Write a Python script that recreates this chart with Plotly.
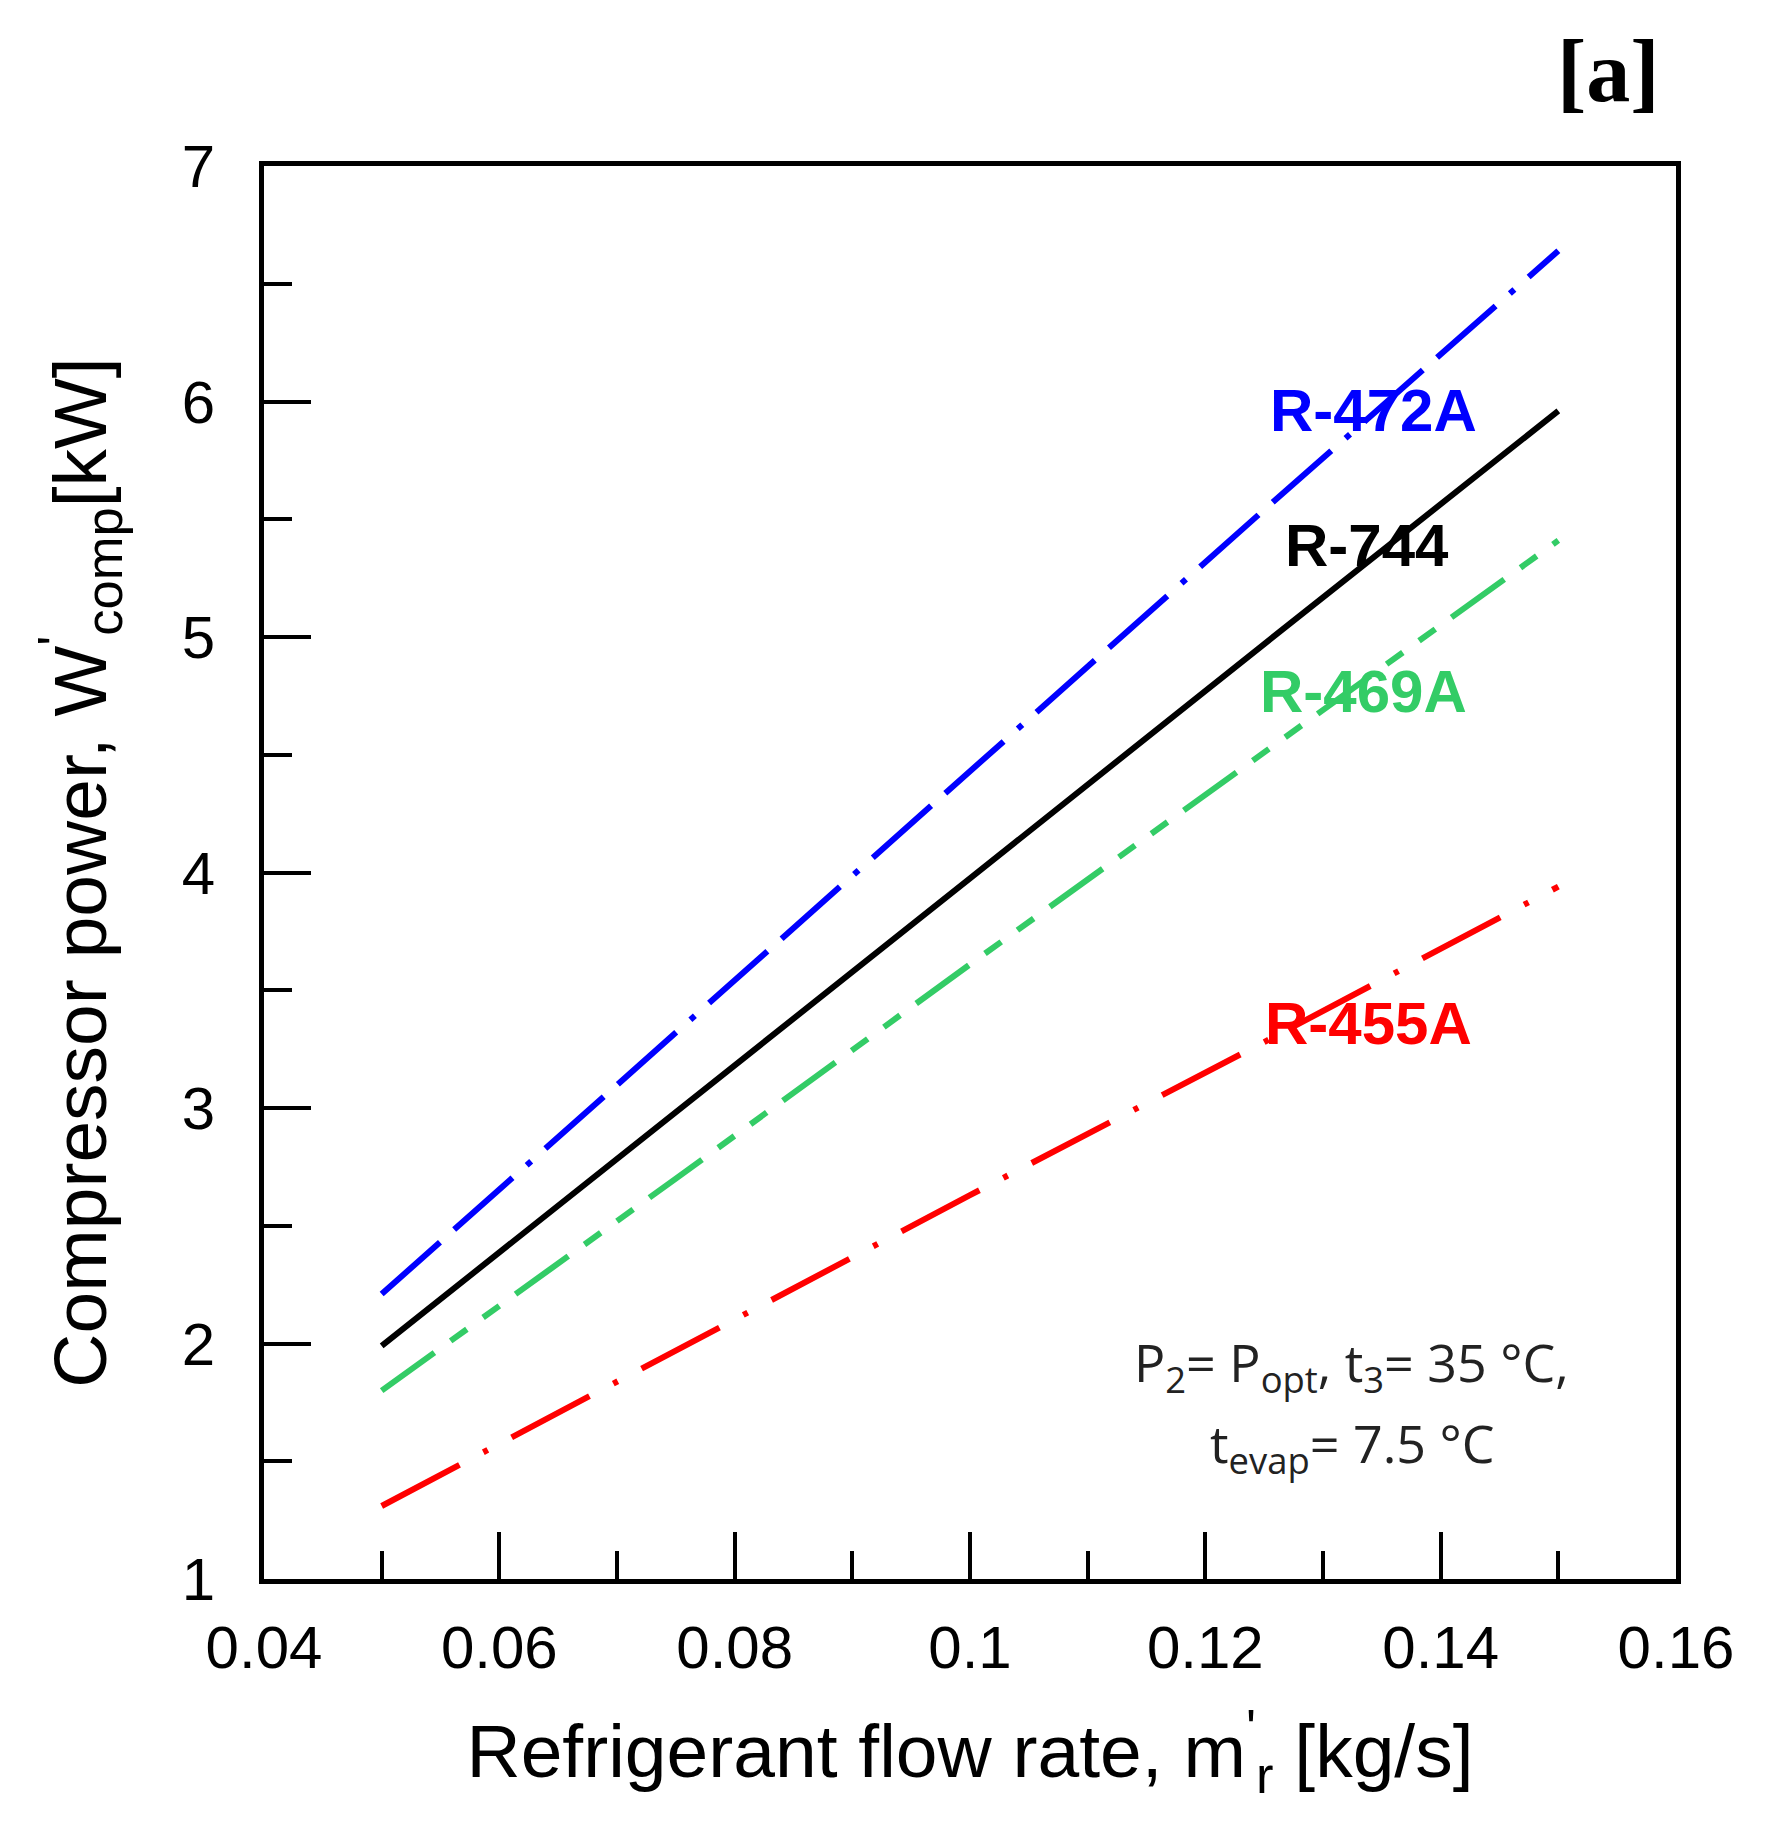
import plotly.graph_objects as go

# ---------------- data ----------------
flow_rate = [0.05, 0.075, 0.1, 0.125, 0.15]
r472a = [2.21, 3.32, 4.43, 5.54, 6.64]
r744 = [1.99, 2.98, 3.975, 4.97, 5.96]
r469a = [1.80, 2.70, 3.61, 4.51, 5.41]
r455a = [1.31, 1.97, 2.63, 3.28, 3.94]

series_names = ["R-472A", "R-744", "R-469A", "R-455A"]
series_colors = ["#0000FF", "#000000", "#33CC66", "#FF0000"]
series_dash = ["78px,19px,78px,19px,6px,19px", "solid",
               "65px,20px,20px,20px,20px,20px", "88px,27px,5px,27px"]
label_x = [0.1343, 0.1337, 0.1334, 0.1339]
label_y = [5.96, 5.39, 4.77, 3.36]

x_tickvals = [0.04, 0.06, 0.08, 0.10, 0.12, 0.14, 0.16]
x_ticktext = ["0.04", "0.06", "0.08", "0.1", "0.12", "0.14", "0.16"]
x_minorvals = [0.05, 0.07, 0.09, 0.11, 0.13, 0.15]
y_tickvals = [1, 2, 3, 4, 5, 6, 7]
y_minorvals = [1.5, 2.5, 3.5, 4.5, 5.5, 6.5]

# ---------------- figure ----------------
L, R, T, B = 256, 100, 158, 268
W, H = 1768, 1839
pw, ph = W - L - R, H - T - B


def px_to_paper(px, py):
    return (px - L) / pw, 1 - (py - T) / ph


fig = go.Figure()
all_y = [r472a, r744, r469a, r455a]
for name, ys, col, dash in zip(series_names, all_y, series_colors, series_dash):
    fig.add_trace(go.Scatter(x=flow_rate, y=ys, mode="lines", name=name,
                             line=dict(color=col, width=6, dash=dash)))

for name, lx, ly, col in zip(series_names, label_x, label_y, series_colors):
    fig.add_annotation(x=lx, y=ly, xref="x", yref="y", text="<b>%s</b>" % name,
                       showarrow=False, xanchor="center", yanchor="middle",
                       font=dict(family="Liberation Sans", size=60, color=col))

cond_font = dict(family="Open Sans", size=52, color="#222222")
cx1, cy1 = px_to_paper(1563, 1357)
fig.add_annotation(x=cx1, y=cy1, xref="paper", yref="paper",
                   text="P<sub>2</sub>= P<sub>opt</sub>, t<sub>3</sub>= 35 °C,",
                   showarrow=False, xanchor="right", yanchor="middle", font=cond_font)
cx2, cy2 = px_to_paper(1489, 1438)
fig.add_annotation(x=cx2, y=cy2, xref="paper", yref="paper",
                   text="t<sub>evap</sub>= 7.5 °C",
                   showarrow=False, xanchor="right", yanchor="middle", font=cond_font)

ax_, ay_ = px_to_paper(1600, 64)
fig.add_annotation(x=ax_, y=ay_, xref="paper", yref="paper",
                   text="<b>[a]</b>", showarrow=False, xanchor="center", yanchor="middle",
                   font=dict(family="Liberation Serif", size=88, color="black"))

axis_common = dict(
    showline=True, linewidth=5, linecolor="black", mirror=True,
    showgrid=False, zeroline=False,
    ticks="inside", ticklen=47, tickwidth=4, tickcolor="black",
    tickfont=dict(family="Liberation Sans", size=60, color="black"),
    automargin=False,
)

fig.update_xaxes(
    range=[0.04, 0.16], tickvals=x_tickvals, ticktext=x_ticktext,
    minor=dict(tickvals=x_minorvals, ticks="inside", ticklen=28, tickwidth=4, tickcolor="black"),
    ticklabelstandoff=12,
    title=dict(text="Refrigerant flow rate, m<sup>'</sup><sub>r</sub> [kg/s]",
               font=dict(family="Liberation Sans", size=75, color="black"), standoff=46),
    **axis_common,
)
fig.update_yaxes(
    range=[1, 7], tickvals=y_tickvals,
    minor=dict(tickvals=y_minorvals, ticks="inside", ticklen=28, tickwidth=4, tickcolor="black"),
    ticklabelstandoff=32,
    title=dict(text="Compressor power, W<sup>'</sup><sub>comp</sub>[kW]",
               font=dict(family="Liberation Sans", size=75, color="black"), standoff=52),
    **axis_common,
)

fig.update_layout(
    width=W, height=H,
    margin=dict(l=L, r=R, t=T, b=B, pad=0),
    plot_bgcolor="white", paper_bgcolor="white",
    showlegend=False,
)

fig.write_html("out.html")
